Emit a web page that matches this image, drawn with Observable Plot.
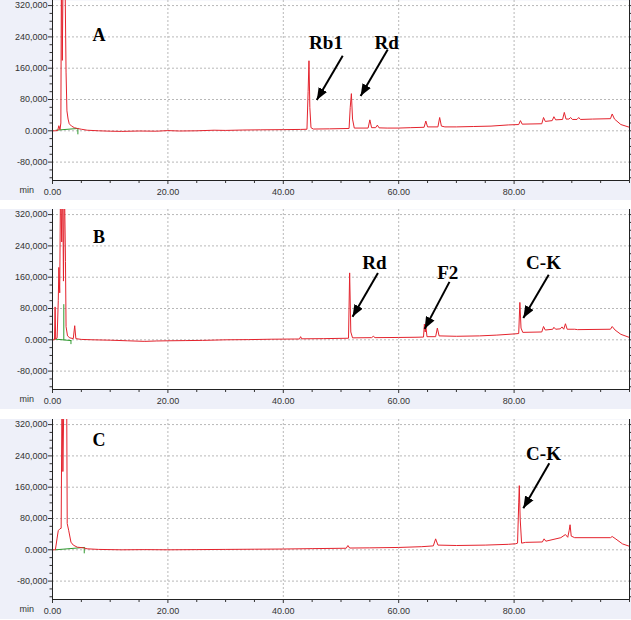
<!DOCTYPE html>
<html>
<head>
<meta charset="utf-8">
<script src="https://cdn.jsdelivr.net/npm/d3@7"></script>
<script src="https://cdn.jsdelivr.net/npm/@observablehq/plot@0.6"></script>
<style>
  html, body { margin: 0; padding: 0; background: #ffffff; }
  #wrap { position: relative; width: 631px; height: 620px; overflow: hidden; }
  .panel { position: absolute; left: 0; }
  .panel svg { display: block; }
</style>
</head>
<body>
<div id="wrap">
  <div class="panel" id="pA" style="top:0px"></div>
  <div class="panel" id="pB" style="top:209px"></div>
  <div class="panel" id="pC" style="top:419px"></div>
</div>
<script>
// ---------- tick definitions ----------
const majorX = [0, 20, 40, 60, 80];
const minorX = [5, 10, 15, 25, 30, 35, 45, 50, 55, 65, 70, 75, 85, 90, 95, 100];
const majorY = [-80000, 0, 80000, 160000, 240000, 320000];
const minorY = [-120000, -100000, -60000, -40000, -20000, 20000, 40000, 60000, 100000, 120000, 140000, 180000, 200000, 220000, 260000, 280000, 300000];

// ---------- Panel A (time in min, signal) ----------
const timeA = [0, 0.5, 0.9, 1.1, 1.3, 1.45, 1.55, 1.7, 1.85, 2.15, 2.35, 2.5, 2.7, 2.9, 3.3, 3.8, 4.3, 5.0, 6.0, 8, 10, 12, 15, 18, 20, 22, 25, 28, 30, 33, 36, 40, 43, 44.1, 44.3, 44.45, 44.6, 44.8, 45.2, 48, 51.4, 51.6, 51.8, 52.0, 52.3, 54.7, 55.0, 55.3, 56.0, 56.3, 56.6, 58, 60, 62, 64.4, 64.7, 65.0, 66.8, 67.1, 67.4, 68, 70, 73, 76, 79, 80.8, 81.1, 81.4, 84.8, 85.1, 85.4, 86.6, 86.9, 87.2, 88.4, 88.7, 89.0, 89.5, 89.8, 90.1, 90.9, 91.2, 91.5, 93.6, 96.7, 97.0, 97.4, 98.5, 100];
const signalA = [0, 0, 1000, 13000, 3000, 20000, 420000, 180000, 420000, 420000, 150000, 51000, 30000, 18000, 12000, 8000, 6000, 4000, 1500, 0, -1000, -1500, -500, -1000, 500, -500, 0, 1500, 1000, 2000, 2500, 3000, 3500, 4000, 100000, 179000, 60000, 8000, 4500, 5000, 6000, 60000, 95000, 30000, 7000, 7000, 28000, 8000, 8000, 14500, 7500, 7000, 7000, 8000, 9000, 25000, 10000, 10000, 34000, 12000, 10000, 10000, 11000, 12000, 15000, 16000, 26000, 17000, 18000, 34000, 24000, 26000, 36000, 28000, 29000, 47000, 30000, 30000, 34000, 29000, 29000, 34000, 29000, 30000, 31000, 43000, 30000, 16000, 9000];
const greenA = [[[0.6, 1500], [4.4, 6000]], [[4.4, 6000], [4.4, -8000]]];
const labelsA = [{text: "Rb1", t: 47.4, v: 225000}, {text: "Rd", t: 57.9, v: 225000}];
const letterA = [{text: "A", t: 8.05, v: 243000}];
const arrowsA = [{t1: 50.3, v1: 192000, t2: 45.8, v2: 79000}, {t1: 58.1, v1: 208000, t2: 53.4, v2: 89000}];

// ---------- Panel B ----------
const timeB = [0, 0.35, 0.45, 0.55, 0.8, 1.0, 1.1, 1.25, 1.4, 1.6, 1.75, 1.9, 2.05, 2.25, 2.35, 2.6, 3.0, 3.6, 3.85, 4.05, 5, 7, 10, 13, 16, 18, 20, 23, 26, 30, 34, 38, 42, 42.8, 43.0, 43.2, 47, 51.3, 51.5, 51.7, 52.0, 55.3, 55.6, 55.9, 60, 63, 64.3, 64.45, 64.6, 64.7, 64.9, 66.4, 66.7, 67.0, 70, 74, 77, 80.0, 80.8, 81.0, 81.2, 81.5, 84.8, 85.1, 85.4, 86.7, 86.9, 87.2, 88.0, 88.3, 88.6, 88.9, 89.2, 90.5, 91, 96.7, 97.0, 97.5, 98.5, 100];
const signalB = [0, 0, 84000, 2000, 5000, 100000, 185000, 120000, 420000, 250000, 420000, 150000, 420000, 200000, 34000, 10000, 5000, 3000, 36000, 3000, 1000, 0, -1000, -2500, -4000, -3000, -2500, -2000, -1500, 0, 500, 1500, 2000, 2000, 8000, 2500, 3000, 4000, 171000, 20000, 5000, 5500, 9000, 5500, 6000, 6500, 7000, 40000, 20000, 36000, 8000, 8000, 30000, 10000, 9000, 10000, 12000, 15000, 16000, 95500, 30000, 19000, 20000, 34000, 25000, 27000, 32000, 27000, 28000, 33000, 27000, 41000, 27000, 27000, 26000, 27000, 34000, 25000, 14000, 6000];
const greenB = [[[0.3, 2000], [3.2, -2000]], [[1.96, 0], [1.96, 90000]], [[3.2, -2000], [3.2, -10000]]];
const labelsB = [{text: "Rd", t: 55.8, v: 197000}, {text: "F2", t: 68.5, v: 171000}, {text: "C-K", t: 85.1, v: 197000}];
const letterB = [{text: "B", t: 8.05, v: 261000}];
const arrowsB = [{t1: 56.4, v1: 171000, t2: 52.0, v2: 59000}, {t1: 68.8, v1: 148000, t2: 64.5, v2: 28000}, {t1: 86.0, v1: 166000, t2: 81.6, v2: 56000}];

// ---------- Panel C ----------
const timeC = [0, 0.5, 0.8, 1.0, 1.3, 1.5, 1.65, 1.8, 2.0, 2.25, 2.45, 2.55, 2.8, 3.2, 3.6, 4.3, 5.4, 6, 8, 12, 16, 20, 25, 30, 35, 40, 45, 50.9, 51.2, 51.5, 55, 60, 64, 66.0, 66.4, 66.8, 70, 75, 79, 80.3, 80.6, 80.8, 80.9, 81.05, 81.3, 82, 84.9, 85.2, 85.5, 88.1, 88.9, 89.3, 89.55, 89.7, 89.9, 90.5, 96.7, 97.0, 97.5, 98.8, 100];
const signalC = [0, 0, 30000, 49000, 54000, 55000, 420000, 200000, 420000, 420000, 420000, 67000, 50000, 19500, 12000, 6700, 5000, 2500, 1000, 0, 500, 0, 500, 1000, 1500, 2000, 3000, 4000, 11000, 4500, 5000, 6000, 8000, 10000, 28000, 12000, 11000, 12000, 14000, 15500, 17000, 120000, 164000, 80000, 17000, 19000, 20000, 28000, 22000, 31000, 39000, 32000, 50000, 64000, 35000, 31000, 31000, 34000, 29000, 15000, 9000];
const greenC = [[[0.5, 0], [5.5, 6000]], [[5.5, 6000], [5.5, -8000]]];
const labelsC = [{text: "C-K", t: 85.1, v: 246000}];
const letterC = [{text: "C", t: 8.05, v: 280000}];
const arrowsC = [{t1: 86.1, v1: 221000, t2: 81.6, v2: 106000}];

// ---------- drawing ----------
const fmtY = d => d === 0 ? "0.000" : (d < 0 ? "-" : "") + d3.format(",")(Math.abs(d));
const fmtX = d => d.toFixed(2);
const serif = "'Liberation Serif', 'Times New Roman', serif";

const filledArrow = (color) => {
  const ns = "http://www.w3.org/2000/svg";
  const m = document.createElementNS(ns, "marker");
  m.setAttribute("viewBox", "-12 -5 12 10");
  m.setAttribute("markerWidth", 12);
  m.setAttribute("markerHeight", 10);
  m.setAttribute("markerUnits", "userSpaceOnUse");
  m.setAttribute("refX", 0);
  m.setAttribute("refY", 0);
  m.setAttribute("orient", "auto");
  const p = document.createElementNS(ns, "path");
  p.setAttribute("d", "M-12,-4.8L0,0L-12,4.8Z");
  p.setAttribute("fill", color);
  p.setAttribute("stroke", "none");
  m.appendChild(p);
  return m;
};

function panel(times, signal, greens, labels, letter, arrows) {
  const trace = times.map((t, i) => ({t, v: signal[i]}));
  const greenData = greens.flatMap((seg, k) => seg.map(([t, v]) => ({t, v, k})));
  const grid = {stroke: "#b8b8b8", strokeOpacity: 1, strokeDasharray: "2,2"};
  return Plot.plot({
    width: 631, height: 200,
    marginTop: 0, marginBottom: 20, marginLeft: 52, marginRight: 2,
    style: {background: "#eef0f9", fontFamily: "'Liberation Sans', Arial, sans-serif", fontSize: "9px", color: "#333"},
    x: {domain: [0, 100]},
    y: {domain: [-127000, 333000]},
    marks: [
      Plot.frame({fill: "#ffffff", stroke: null}),
      Plot.gridX(majorX.slice(1), grid),
      Plot.gridY(majorY, grid),
      Plot.line(greenData, {x: "t", y: "v", z: "k", stroke: "#2f9a2f", strokeWidth: 1, clip: true}),
      Plot.line(trace, {x: "t", y: "v", stroke: "#e4232d", strokeWidth: 1, clip: true}),
      Plot.axisY(majorY, {tickSize: 4, tickPadding: 1, tickFormat: fmtY, stroke: "#333", fill: "#333"}),
      Plot.axisY(minorY, {tickSize: 2.5, tickFormat: () => "", stroke: "#333"}),
      Plot.axisY(majorY.concat(minorY), {anchor: "right", tickSize: 3, tickFormat: () => "", stroke: "#333"}),
      Plot.axisX(majorX, {tickSize: 4, tickPadding: 4, tickFormat: fmtX, stroke: "#333", fill: "#333"}),
      Plot.axisX(minorX, {tickSize: 3, tickFormat: () => "", stroke: "#333"}),
      Plot.ruleX([0, 100], {stroke: "#222"}),
      Plot.ruleY([-127000], {stroke: "#222"}),
      Plot.text(["min"], {frameAnchor: "bottom-left", dx: -33, dy: 12, fill: "#333", fontSize: 9}),
      Plot.link(arrows, {x1: "t1", y1: "v1", x2: "t2", y2: "v2", stroke: "#000", strokeWidth: 2, markerEnd: filledArrow}),
      Plot.text(labels, {x: "t", y: "v", text: "text", fill: "#000", fontFamily: serif, fontWeight: "bold", fontSize: 19}),
      Plot.text(letter, {x: "t", y: "v", text: "text", fill: "#000", fontFamily: serif, fontWeight: "bold", fontSize: 18})
    ]
  });
}

document.getElementById("pA").append(panel(timeA, signalA, greenA, labelsA, letterA, arrowsA));
document.getElementById("pB").append(panel(timeB, signalB, greenB, labelsB, letterB, arrowsB));
document.getElementById("pC").append(panel(timeC, signalC, greenC, labelsC, letterC, arrowsC));
</script>
</body>
</html>
